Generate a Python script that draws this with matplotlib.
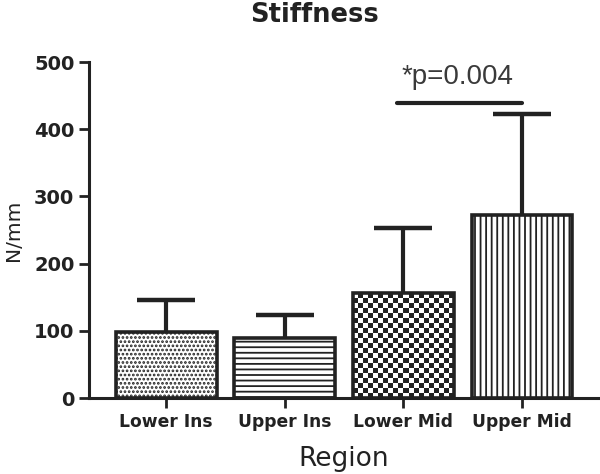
import numpy as np
import matplotlib
matplotlib.use("Agg")
import matplotlib.pyplot as plt
from matplotlib.colors import ListedColormap

# ---- data ----
categories = ["Lower Ins", "Upper Ins", "Lower Mid", "Upper Mid"]
means = [98, 89, 156, 272]
err_upper = [48, 34, 97, 150]
hatches = ["....", "---", "checker", "|||"]
yticks = [0, 100, 200, 300, 400, 500]
sig_x = [1.95, 3.0]
sig_y = 439
sig_text = "*p=0.004"
title = "Stiffness"
xlabel = "Region"
ylabel = "N/mm"

INK = "#222222"
plt.rcParams["hatch.linewidth"] = 1.3

fig = plt.figure(figsize=(6.0, 4.74), dpi=100)
ax = fig.add_axes([89 / 600, 76 / 474, 509 / 600, 336 / 474])
ax.set_xlim(-0.65, 3.64)
ax.set_ylim(0, 500)

x = np.arange(len(categories))
bars = ax.bar(x, means, width=0.85, facecolor="white", edgecolor=INK,
              linewidth=2.6, zorder=2)
for b, h in zip(bars, hatches):
    if h == "checker":
        b.set_facecolor("none")
        # checkerboard fill clipped to the bar
        fig.canvas.draw()
        bb = b.get_window_extent()
        ncol = max(1, int(round(bb.width / 5.0)))
        nrow = max(1, int(round(bb.height / 5.0)))
        ii, jj = np.indices((nrow, ncol))
        board = (ii + jj) % 2
        im = ax.imshow(board, extent=(b.get_x(), b.get_x() + b.get_width(), 0, b.get_height()),
                       aspect="auto", interpolation="nearest",
                       cmap=ListedColormap(["white", INK]), zorder=1, origin="lower")
        im.set_clip_path(b)
    else:
        b.set_hatch(h)

_, caps, _ = ax.errorbar(x, means, yerr=[np.zeros(len(means)), err_upper], fmt="none",
                         ecolor=INK, elinewidth=3, capsize=21, capthick=3.2, zorder=3)
if len(caps) == 2:
    caps[0].set_visible(False)

ax.plot(sig_x, [sig_y, sig_y], color=INK, lw=3, solid_capstyle="round", zorder=3)
ax.text(np.mean(sig_x) - 0.02, sig_y + 19, sig_text, ha="center", va="bottom",
        fontsize=20, family="Liberation Sans", color="#3a3a3a")

for s in ["top", "right"]:
    ax.spines[s].set_visible(False)
for s in ["left", "bottom"]:
    ax.spines[s].set_linewidth(2.2)
    ax.spines[s].set_color(INK)

ax.set_yticks(yticks)
ax.set_xticks(x)
ax.set_xticklabels(categories)
ax.tick_params(axis="both", length=7, width=2, color=INK, labelcolor=INK)
for lab in ax.get_yticklabels():
    lab.set_fontsize(14)
    lab.set_fontweight("bold")
for lab in ax.get_xticklabels():
    lab.set_fontsize(12.3)
    lab.set_fontweight("bold")

ax.set_xlabel(xlabel, fontsize=19, color=INK, labelpad=11)
ax.set_ylabel(ylabel, fontsize=14.5, color=INK, labelpad=8)
fig.text(314 / 600, 1 - 15 / 474, title, ha="center", va="center",
         fontsize=18.5, fontweight="bold", color=INK)

fig.savefig("out.png", dpi=100)
